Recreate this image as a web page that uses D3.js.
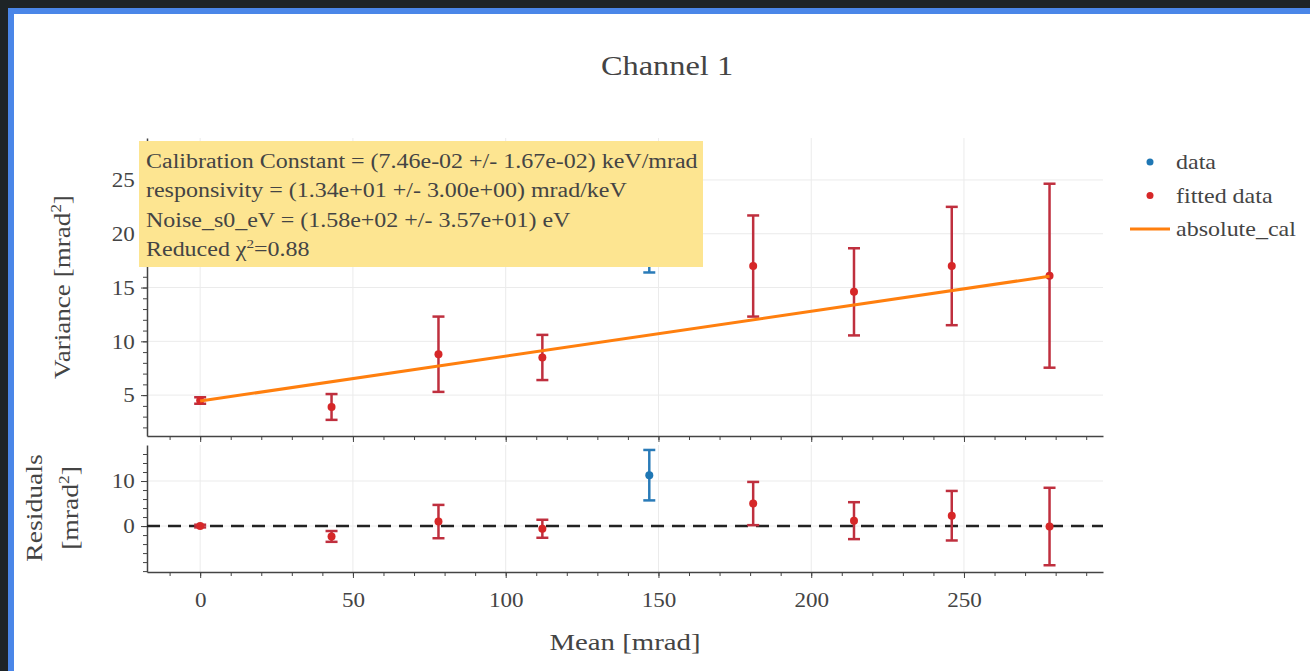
<!DOCTYPE html>
<html>
<head>
    <title>Channel 1</title>
    <script src="https://d3js.org/d3.v7.min.js"></script>
    <style>
        body { margin: 0; background: #1e2427; }
        svg { display: block; }
        text { font-family: "Liberation Serif", "DejaVu Serif", serif; fill: #444; }
    </style>
</head>
<body>
    <svg id="chart"></svg>
    <script>
        const width = 1310;
        const height = 671;

        // Values
        const meanX = [0, 43, 78, 112, 147, 181, 214, 246, 278];
        const variance = [4.5, 3.9, 8.8, 8.5, 22.0, 17.0, 14.6, 17.0, 16.1];
        const varianceErr = [0.3, 1.2, 3.5, 2.1, 5.6, 4.7, 4.05, 5.5, 8.55];
        const residual = [0.0, -2.3, 1.0, -0.6, 11.3, 5.0, 1.2, 2.3, -0.1];
        const residualErr = [0.3, 1.2, 3.7, 2.0, 5.6, 4.8, 4.1, 5.5, 8.6];
        const isFitted = [true, true, true, true, false, true, true, true, true];
        const fitX = [0, 278];
        const fitY = [4.45, 16.05];

        const xTicks = [0, 50, 100, 150, 200, 250];
        const yTicksTop = [5, 10, 15, 20, 25];
        const yTicksRes = [0, 10];
        const legendNames = ["data", "fitted data", "absolute_cal"];
        const annotation = [
            "Calibration Constant = (7.46e-02 +/- 1.67e-02) keV/mrad",
            "responsivity = (1.34e+01 +/- 3.00e+00) mrad/keV",
            "Noise_s0_eV = (1.58e+02 +/- 3.57e+01) eV"
        ];

        const blue = "#1f77b4", red = "#d62728", redBar = "#bf2f3e", orange = "#ff7f0e";

        const svg = d3.select("#chart").attr("width", width).attr("height", height);

        // text placed in a group so it can be stretched a little sideways
        function label(x0, y0, k, size, anchor, rot) {
            const g = svg.append("g")
                .attr("transform", `translate(${x0},${y0})` + (rot ? ` rotate(${rot})` : "") + ` scale(${k},1)`);
            return g.append("text").attr("text-anchor", anchor || "start").style("font-size", size + "px");
        }

        // page frame
        svg.append("rect").attr("x", 8).attr("y", 8).attr("width", width).attr("height", height).attr("fill", "#4a86e8");
        svg.append("rect").attr("x", 14).attr("y", 14).attr("width", width).attr("height", height).attr("fill", "#fff");

        const left = 147, right = 1103;
        const x = d3.scaleLinear().domain([-17.4, 295.5]).range([left, right]);
        const yTop = d3.scaleLinear().domain([1.2, 28.9]).range([436, 138]);
        const yRes = d3.scaleLinear().domain([-10.2, 18]).range([572, 445]);

        function panel(y, yTicks, minorStep, top, bottom, showXLabels) {
            const g = svg.append("g");
            // grid
            g.selectAll(".vg").data(xTicks).enter().append("line")
                .attr("x1", d => x(d)).attr("x2", d => x(d))
                .attr("y1", top).attr("y2", bottom)
                .attr("stroke", "#ebebeb");
            g.selectAll(".hg").data(yTicks).enter().append("line")
                .attr("x1", left).attr("x2", right)
                .attr("y1", d => y(d)).attr("y2", d => y(d))
                .attr("stroke", "#ebebeb");

            // y axis with minor ticks
            const yMinor = d3.range(Math.ceil(y.domain()[0] / minorStep) * minorStep, y.domain()[1], minorStep);
            g.append("g").attr("transform", `translate(${left},0)`)
                .call(d3.axisLeft(y).tickValues(yMinor).tickSize(4).tickFormat(""))
                .call(s => s.select(".domain").remove());
            g.append("g").attr("transform", `translate(${left},0)`)
                .call(d3.axisLeft(y).tickValues(yTicks).tickSize(6).tickSizeOuter(0).tickPadding(5))
                .call(s => s.select(".domain").attr("stroke", "#444").attr("stroke-width", 1.5))
                .call(s => s.selectAll("text").style("font-size", "21px").attr("fill", "#555")
                    .attr("transform", "scale(1.1,1)"));

            // x axis with minor ticks
            const xMinor = d3.range(-10, 295, 10);
            g.append("g").attr("transform", `translate(0,${bottom})`)
                .call(d3.axisBottom(x).tickValues(xMinor).tickSize(4).tickSizeOuter(0).tickFormat(""))
                .call(s => s.select(".domain").attr("stroke", "#444").attr("stroke-width", 1.5));
            g.append("g").attr("transform", `translate(0,${bottom})`)
                .call(d3.axisBottom(x).tickValues(xTicks).tickSize(6).tickPadding(14)
                    .tickFormat(showXLabels ? d3.format("d") : ""))
                .call(s => s.select(".domain").remove())
                .call(s => s.selectAll("text").style("font-size", "21px").attr("fill", "#555")
                    .attr("transform", "scale(1.1,1)"));
            g.selectAll(".tick line").attr("stroke", "#444");
            return g;
        }

        panel(yTop, yTicksTop, 1, 138, 436, false);
        panel(yRes, yTicksRes, 2, 445, 572, true);

        // dashed zero line
        svg.append("line")
            .attr("x1", left).attr("x2", right)
            .attr("y1", yRes(0)).attr("y2", yRes(0))
            .attr("stroke", "#222").attr("stroke-width", 2.5)
            .attr("stroke-dasharray", "13,8");

        const pts = meanX.map((d, i) => ({
            x: d, v: variance[i], ve: varianceErr[i],
            r: residual[i], re: residualErr[i], fitted: isFitted[i]
        }));

        function errorBars(y, key, errKey) {
            const g = svg.append("g").selectAll("g").data(pts).enter().append("g");
            const col = d => d.fitted ? redBar : "#2a7bb8";
            g.append("line")
                .attr("x1", d => x(d.x)).attr("x2", d => x(d.x))
                .attr("y1", d => y(d[key] - d[errKey])).attr("y2", d => y(d[key] + d[errKey]))
                .attr("stroke", col).attr("stroke-width", 2.5);
            [-1, 1].forEach(sgn => {
                g.append("line")
                    .attr("x1", d => x(d.x) - 6).attr("x2", d => x(d.x) + 6)
                    .attr("y1", d => y(d[key] + sgn * d[errKey])).attr("y2", d => y(d[key] + sgn * d[errKey]))
                    .attr("stroke", col).attr("stroke-width", 2.5);
            });
            g.append("circle")
                .attr("cx", d => x(d.x)).attr("cy", d => y(d[key]))
                .attr("r", 4)
                .attr("fill", d => d.fitted ? red : blue);
        }

        errorBars(yTop, "v", "ve");
        errorBars(yRes, "r", "re");

        // fit line
        svg.append("path")
            .datum(fitX.map((d, i) => [d, fitY[i]]))
            .attr("d", d3.line().x(d => x(d[0])).y(d => yTop(d[1])))
            .attr("stroke", orange).attr("stroke-width", 3).attr("fill", "none");

        // annotation box
        svg.append("rect")
            .attr("x", 139).attr("y", 141).attr("width", 564).attr("height", 126)
            .attr("fill", "#fde591");
        annotation.forEach((t, i) => {
            label(146, 168 + i * 29.3, 1.17, 20.5).attr("fill", "#4a4a4a").text(t);
        });
        const chi = label(146, 168 + 3 * 29.3, 1.17, 20.5).attr("fill", "#4a4a4a");
        chi.append("tspan").text("Reduced χ");
        chi.append("tspan").attr("dy", -8).style("font-size", "13px").text("2");
        chi.append("tspan").attr("dy", 8).text("=0.88");

        // title
        label(667, 75, 1.2, 27, "middle").text("Channel 1");

        // axis titles
        const vt = label(70, 287, 1.13, 24, "middle", -90).attr("fill", "#555");
        vt.append("tspan").text("Variance [mrad");
        vt.append("tspan").attr("dy", -9).style("font-size", "15px").text("2");
        vt.append("tspan").attr("dy", 9).text("]");

        label(42, 508, 1.15, 24, "middle", -90).attr("fill", "#555").text("Residuals");
        const rt = label(78, 508, 1.15, 24, "middle", -90).attr("fill", "#555");
        rt.append("tspan").text("[mrad");
        rt.append("tspan").attr("dy", -9).style("font-size", "15px").text("2");
        rt.append("tspan").attr("dy", 9).text("]");

        label(625, 650, 1.2, 24, "middle").attr("fill", "#555").text("Mean [mrad]");

        // legend
        const leg = svg.append("g");
        legendNames.forEach((name, i) => {
            const ly = 162 + i * 33.5;
            if (i < 2) {
                leg.append("circle").attr("cx", 1150).attr("cy", ly).attr("r", 3.5).attr("fill", i === 0 ? blue : red);
            } else {
                leg.append("line").attr("x1", 1130).attr("x2", 1170).attr("y1", ly).attr("y2", ly)
                    .attr("stroke", orange).attr("stroke-width", 3);
            }
            label(1176, ly + 7, 1.2, 20).attr("fill", "#555").text(name);
        });
    </script>
</body>
</html>
